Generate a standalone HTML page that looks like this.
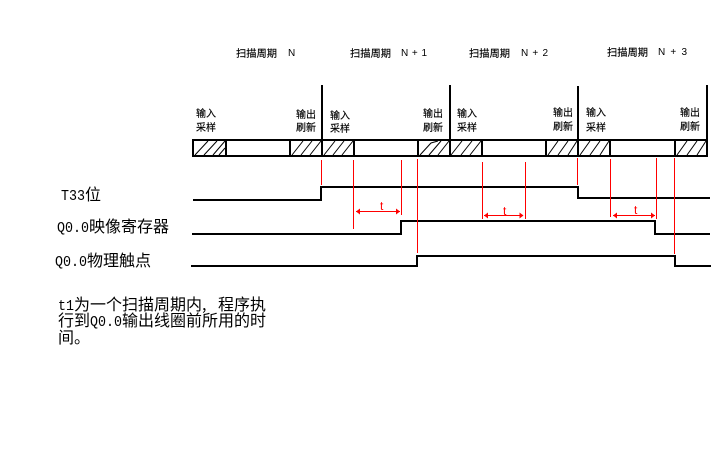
<!DOCTYPE html>
<html><head><meta charset="utf-8"><style>
html,body{margin:0;padding:0;background:#fff;width:720px;height:450px;overflow:hidden}
svg{display:block}
text{font-family:"WenQuanYi Zen Hei","Noto Sans CJK SC",monospace;fill:#000}
.s{font-family:"WenQuanYi Zen Hei","Noto Sans CJK SC",sans-serif;font-size:10px;stroke:#000;stroke-width:.15px}
.n{font-family:"Liberation Sans",sans-serif;font-size:10px}
.b{font-family:"WenQuanYi Zen Hei","Noto Sans CJK SC",monospace;font-size:16px}
.l{font-family:"Liberation Mono",monospace;font-size:15px}
.t{font-family:"Liberation Sans",sans-serif;font-size:12px;fill:#f00}
</style></head><body>
<svg width="720" height="450" viewBox="0 0 720 450" xmlns="http://www.w3.org/2000/svg">
<g class="hdr">
<text class="s" x="236" y="57" textLength="41" lengthAdjust="spacingAndGlyphs">扫描周期</text><text class="n" x="288" y="56">N</text>
<text class="s" x="350" y="57" textLength="41" lengthAdjust="spacingAndGlyphs">扫描周期</text><text class="n" x="401" y="56" textLength="26">N + 1</text>
<text class="s" x="469" y="57" textLength="41" lengthAdjust="spacingAndGlyphs">扫描周期</text><text class="n" x="521" y="56" textLength="27">N + 2</text>
<text class="s" x="607" y="56" textLength="41" lengthAdjust="spacingAndGlyphs">扫描周期</text><text class="n" x="658" y="55" textLength="29">N + 3</text>
</g>
<g>
<text class="s" x="196" y="117">输入</text><text class="s" x="196" y="131">采样</text>
<text class="s" x="296" y="118">输出</text><text class="s" x="296" y="131">刷新</text>
<text class="s" x="330" y="119">输入</text><text class="s" x="330" y="132">采样</text>
<text class="s" x="423" y="117">输出</text><text class="s" x="423" y="131">刷新</text>
<text class="s" x="457" y="117">输入</text><text class="s" x="457" y="131">采样</text>
<text class="s" x="553" y="116">输出</text><text class="s" x="553" y="130">刷新</text>
<text class="s" x="586" y="116">输入</text><text class="s" x="586" y="131">采样</text>
<text class="s" x="680" y="116">输出</text><text class="s" x="680" y="130">刷新</text>
</g>
<g stroke="#000" stroke-width="1" fill="none">
<path d="M195 155L208 141M204 155L217 141M213 155L225 141M219 155L225 148"/>
<path d="M292 155L303 141M301 155L312 141M310 155L321 141"/>
<path d="M324 155L335 141M333 155L344 141M342 155L353 141"/>
<path d="M420 155L431 143L438 141M429 155L441 141M438 155L449 141"/>
<path d="M451 155L462 141M461 155L472 141M470 155L481 141"/>
<path d="M548 155L558 141M558 155L568 141M568 155L577 141"/>
<path d="M580 155L590 141M590 155L600 141M600 155L609 141"/>
<path d="M677 155L687 141M687 155L697 141M697 155L706 141"/>
</g>
<g stroke="#000" stroke-width="2" fill="none" shape-rendering="crispEdges">
<rect x="193" y="140" width="514" height="16"/>
<path d="M226 140V156M290 140V156M354 140V156M418 140V156M482 140V156M546 140V156M610 140V156M675 140V156"/>
<path d="M322 85V156M450 85V156M578 86V156M707 85V156"/>
<path d="M193 200H321V187H578V198H710"/>
<path d="M192 234H401V221H655V234H710"/>
<path d="M191 266H417V256H675V266H711"/>
</g>
<g stroke="#f00" stroke-width="1" fill="none" shape-rendering="crispEdges">
<path d="M321.5 160V185M353.5 160V229M401.5 160V215M417.5 159V253M482.5 162V219M525.5 162V219M577.5 158V185M610.5 159V217M656.5 158V219M674.5 158V254"/>
<path d="M356 211.5H400M484 215.5H523M613 215.5H655"/>
</g>
<g fill="#f00">
<path d="M356 211.5L360 208.5V214.5ZM400 211.5L396 208.5V214.5Z"/>
<path d="M484 215.5L488 212.5V218.5ZM523.5 215.5L519.5 212.5V218.5Z"/>
<path d="M613 215.5L617 212.5V218.5ZM655 215.5L651 212.5V218.5Z"/>
</g>
<text class="t" x="380" y="210">t</text>
<text class="t" x="503" y="215">t</text>
<text class="t" x="634" y="214">t</text>
<text class="l" x="61" y="200" textLength="24" lengthAdjust="spacingAndGlyphs">T33</text><text class="b" x="85" y="200">位</text>
<text class="l" x="57" y="232" textLength="32" lengthAdjust="spacingAndGlyphs">Q0.0</text><text class="b" x="89" y="232">映像寄存器</text>
<text class="l" x="55" y="266" textLength="32" lengthAdjust="spacingAndGlyphs">Q0.0</text><text class="b" x="87" y="266">物理触点</text>
<text class="l" x="58" y="310" textLength="16" lengthAdjust="spacingAndGlyphs">t1</text><text class="b" x="74" y="310">为一个扫描周期内,</text><text class="b" x="218" y="310">程序执</text>
<text class="b" x="58" y="326">行到</text><text class="l" x="90" y="326" textLength="32" lengthAdjust="spacingAndGlyphs">Q0.0</text><text class="b" x="122" y="326">输出线圈前所用的时</text>
<text class="b" x="58" y="343">间。</text>
</svg>
</body></html>
